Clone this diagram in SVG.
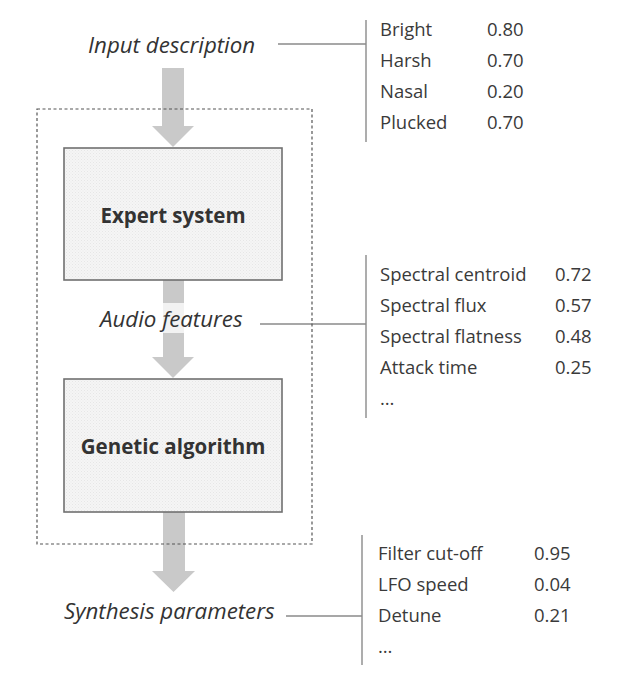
<svg xmlns="http://www.w3.org/2000/svg" width="622" height="675" viewBox="0 0 622 675">
  <defs>
    <pattern id="dots" width="3" height="3" patternUnits="userSpaceOnUse">
      <rect width="3" height="3" fill="#f5f5f5"/>
      <rect x="0" y="0" width="1" height="1" fill="#e6e6e6"/>
      <rect x="1.5" y="1.5" width="1" height="1" fill="#e9e9e9"/>
    </pattern>
    <style>
      .box { fill: url(#dots); stroke: #707070; stroke-width: 1.6; }
      .arrow { fill: #c9c9c9; }
      .lead { stroke: #8a8a8a; stroke-width: 1.4; fill: none; }
      .txt { font-family: "Open Sans", "Liberation Sans", sans-serif; font-size: 18.5px; fill: #3a3a3a; }
      .lbl { font-family: "Open Sans", "Liberation Sans", sans-serif; font-size: 22.3px; font-style: italic; fill: #333; }
      .bold { font-family: "Open Sans", "Liberation Sans", sans-serif; font-size: 20.5px; font-weight: bold; fill: #333; text-anchor: middle; }
    </style>
  </defs>
  <rect width="622" height="675" fill="#ffffff"/>

  <g id="connectors">
    <path class="arrow" d="M162,68 H184 V126 H194 L173,147 L152,126 H162 Z"/>
    <path class="arrow" d="M163,280 H184 V357 H194 L173,378 L152,357 H163 Z"/>
    <path class="arrow" d="M163,512 H185 V571 H195 L173.5,592 L152,571 H163 Z"/>
    <line class="lead" x1="278" y1="44" x2="366" y2="44"/>
    <line class="lead" x1="366" y1="20" x2="366" y2="142"/>
    <line class="lead" x1="260" y1="324" x2="366" y2="324"/>
    <line class="lead" x1="366" y1="255" x2="366" y2="418"/>
    <line class="lead" x1="286" y1="616" x2="362" y2="616"/>
    <line class="lead" x1="362" y1="535" x2="362" y2="665"/>
  </g>

  <g id="group-boundary">
    <rect x="37" y="109" width="275" height="435" fill="none" stroke="#555" stroke-width="1.2" stroke-dasharray="3,2.5"/>
  </g>

  <g id="expert-system">
    <rect class="box" x="64" y="148" width="218" height="132"/>
    <text class="bold" x="173" y="223">Expert system</text>
  </g>

  <g id="genetic-algorithm">
    <rect class="box" x="64" y="379" width="218" height="133"/>
    <text class="bold" x="173" y="454">Genetic algorithm</text>
  </g>

  <g id="input-description">
    <text class="lbl" x="88" y="53">Input description</text>
  </g>

  <g id="audio-features">
    <rect x="150" y="303" width="46" height="30" fill="#ffffff" opacity="0.75"/>
    <text class="lbl" x="100" y="327">Audio features</text>
  </g>

  <g id="synthesis-parameters">
    <text class="lbl" x="64" y="619">Synthesis parameters</text>
  </g>

  <g id="list-input">
    <text class="txt" x="380" y="36">Bright</text>
    <text class="txt" x="487" y="36">0.80</text>
    <text class="txt" x="380" y="67">Harsh</text>
    <text class="txt" x="487" y="67">0.70</text>
    <text class="txt" x="380" y="98">Nasal</text>
    <text class="txt" x="487" y="98">0.20</text>
    <text class="txt" x="380" y="129">Plucked</text>
    <text class="txt" x="487" y="129">0.70</text>
  </g>

  <g id="list-features">
    <text class="txt" x="380" y="281">Spectral centroid</text>
    <text class="txt" x="555" y="281">0.72</text>
    <text class="txt" x="380" y="312">Spectral flux</text>
    <text class="txt" x="555" y="312">0.57</text>
    <text class="txt" x="380" y="343">Spectral flatness</text>
    <text class="txt" x="555" y="343">0.48</text>
    <text class="txt" x="380" y="374">Attack time</text>
    <text class="txt" x="555" y="374">0.25</text>
    <text class="txt" x="380" y="405">…</text>
  </g>

  <g id="list-parameters">
    <text class="txt" x="378" y="560">Filter cut-off</text>
    <text class="txt" x="534" y="560">0.95</text>
    <text class="txt" x="378" y="591">LFO speed</text>
    <text class="txt" x="534" y="591">0.04</text>
    <text class="txt" x="378" y="622">Detune</text>
    <text class="txt" x="534" y="622">0.21</text>
    <text class="txt" x="378" y="653">…</text>
  </g>
</svg>
